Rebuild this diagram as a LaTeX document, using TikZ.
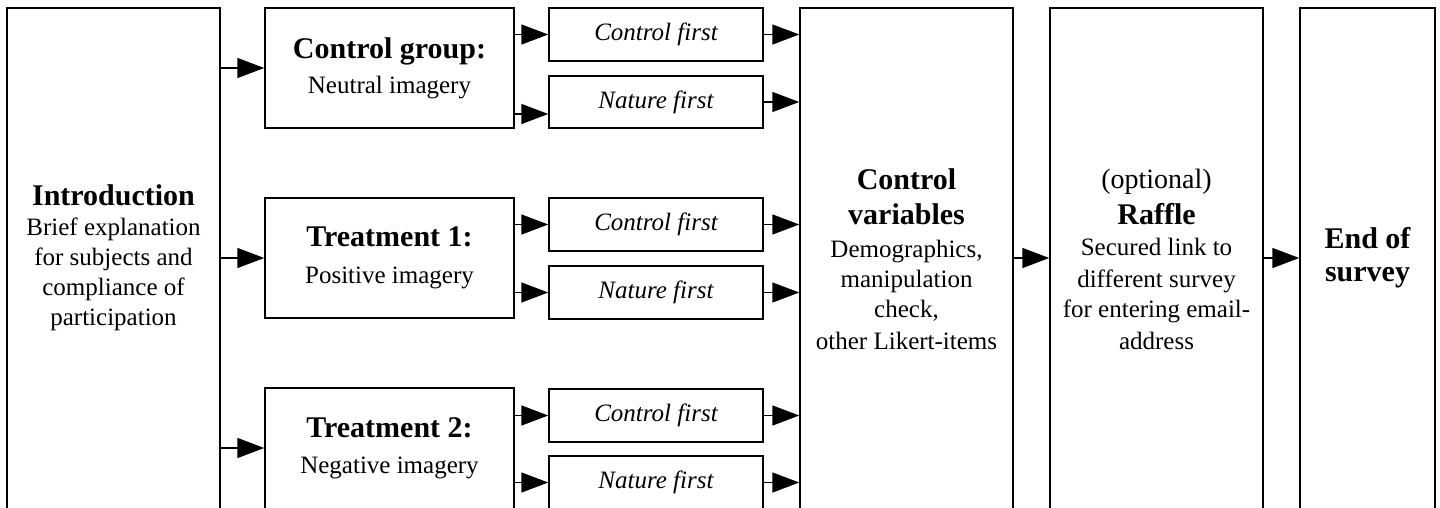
\documentclass[tikz,border=0pt]{standalone}
\usepackage{fontspec}
\setmainfont{Liberation Serif}
\usetikzlibrary{arrows.meta,calc}
\newcommand\bigt[1]{{\fontsize{15}{17.5}\selectfont\bfseries #1}}
\begin{document}
\begin{tikzpicture}[x=0.5pt,y=-0.5pt,
  box/.style={draw,line width=0.75pt,inner sep=0pt,align=center,
    font=\fontsize{12.5}{15}\selectfont},
  sub/.style={box,font=\fontsize{12.5}{15}\selectfont\itshape,
    minimum width=107pt},
  txt/.style={inner sep=0pt,align=center,font=\fontsize{12.5}{15}\selectfont},
  arr/.style={line width=0.8pt,-{Triangle[length=13.5pt,width=10pt]}}]
\useasboundingbox (0,0) rectangle (1440,508);
\clip (0,0) rectangle (1440,508);

% tall boxes (cut off at the bottom)
\node[box,minimum width=106.5pt,minimum height=256pt] (introbox) at (113.5,264) {};
\node[txt] (intro) at (113.5,258) {\bigt{Introduction}\\ Brief explanation\\ for subjects and\\ compliance of\\ participation};

\node[box,minimum width=106.5pt,minimum height=256pt] (cvbox) at (906.5,264) {};
\node[txt] (cv) at (906.5,259) {\bigt{Control}\\[2.5pt] \bigt{variables}\\[1.5pt] Demographics,\\ manipulation\\ check,\\[1pt] other Likert-items};

\node[box,minimum width=106.5pt,minimum height=256pt] (rafbox) at (1156.5,264) {};
\node[txt] (raf) at (1156.5,259) {{\fontsize{14}{16}\selectfont (optional)}\\[3pt] \bigt{Raffle}\\[0.5pt] Secured link to\\[1pt] different survey\\ for entering email-\\[1pt] address};

\node[box,minimum width=67.5pt,minimum height=256pt] (endbox) at (1367.5,264) {};
\node[txt] (end) at (1367.5,258) {\bigt{End of}\\[1.5pt] \bigt{survey}};

% group boxes
\node[box,minimum width=124.5pt,minimum height=60pt] (cg) at (389.5,68) {\bigt{Control group:}\\[2.5pt] Neutral imagery};
\node[box,minimum width=124.5pt,minimum height=60pt] (t1) at (389.5,258) {\bigt{Treatment 1:}\\[3.5pt] Positive imagery};
\node[box,minimum width=124.5pt,minimum height=66pt] (t2box) at (389.5,454) {};
\node[txt] (t2) at (389.5,448) {\bigt{Treatment 2:}\\[3pt] Negative imagery};

% order boxes
\node[sub,minimum height=26.5pt] (cf1) at (656,34.5) {Control first};
\node[sub,minimum height=26pt] (nf1) at (656,102) {Nature first};
\node[sub,minimum height=26.5pt] (cf2) at (656,224.5) {Control first};
\node[sub,minimum height=26.5pt] (nf2) at (656,292.5) {Nature first};
\node[sub,minimum height=26.5pt] (cf3) at (656,415.5) {Control first};
\node[box,minimum width=107pt,minimum height=32pt] (nf3box) at (656,488) {};
\node[txt,font=\fontsize{12.5}{15}\selectfont\itshape] (nf3) at (656,482.5) {Nature first};

% connectors from introduction
\draw[arr] (introbox.east |- cg.west) -- (cg.west);
\draw[arr] (introbox.east |- t1.west) -- (t1.west);
\draw[arr] (introbox.east |- t2) -- (t2box.west |- t2);

% group -> order
\draw[arr] (cg.east |- cf1.west) -- (cf1.west);
\coordinate (nf1in) at ($(nf1.west)+(0,12)$);
\draw[arr] (cg.east |- nf1in) -- (nf1in);
\draw[arr] (t1.east |- cf2.west) -- (cf2.west);
\draw[arr] (t1.east |- nf2.west) -- (nf2.west);
\draw[arr] (t2box.east |- cf3.west) -- (cf3.west);
\draw[arr] (t2box.east |- nf3) -- (nf3box.west |- nf3);

% order -> control variables
\draw[arr] (cf1.east) -- (cvbox.west |- cf1.east);
\draw[arr] (nf1.east) -- (cvbox.west |- nf1.east);
\draw[arr] (cf2.east) -- (cvbox.west |- cf2.east);
\draw[arr] (nf2.east) -- (cvbox.west |- nf2.east);
\draw[arr] (cf3.east) -- (cvbox.west |- cf3.east);
\draw[arr] (nf3box.east |- nf3) -- (cvbox.west |- nf3);

% later steps
\draw[arr] (cvbox.east |- intro) -- (rafbox.west |- intro);
\draw[arr] (rafbox.east |- intro) -- (endbox.west |- intro);
\end{tikzpicture}
\end{document}
